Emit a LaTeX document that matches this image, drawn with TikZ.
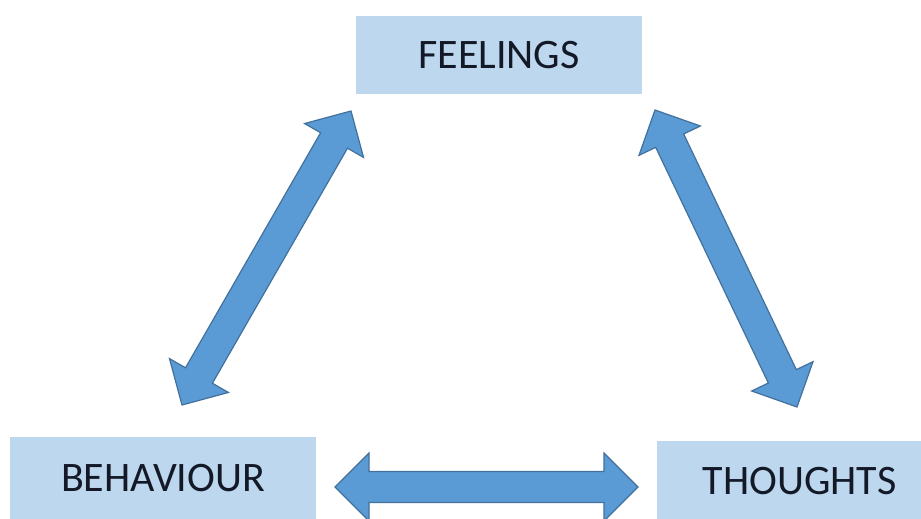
\documentclass[tikz,border=0pt]{standalone}
\usepackage{fontspec}
\setmainfont{Carlito}
\usetikzlibrary{calc}
\definecolor{boxfill}{HTML}{BDD7EE}
\definecolor{arrfill}{HTML}{5B9BD5}
\definecolor{arrline}{HTML}{41719C}
\definecolor{txt}{HTML}{141928}
\newcommand\blockarrow[2]{%
  \coordinate (ba-p) at ($(#1)!34pt!(#2)$);
  \coordinate (ba-q) at ($(#2)!34pt!(#1)$);
  \draw[barrow] (#1) -- ($(ba-p)!34pt!90:(#2)$) -- ($(ba-p)!15.5pt!90:(#2)$)
    -- ($(ba-q)!15.5pt!-90:(#1)$) -- ($(ba-q)!34pt!-90:(#1)$) -- (#2)
    -- ($(ba-q)!34pt!90:(#1)$) -- ($(ba-q)!15.5pt!90:(#1)$)
    -- ($(ba-p)!15.5pt!-90:(#2)$) -- ($(ba-p)!34pt!-90:(#2)$) -- cycle;}
\begin{document}
\begin{tikzpicture}[x=1pt,y=-1pt,
  box/.style={rectangle, fill=boxfill, draw=none, inner sep=0pt,
    text=txt, font=\fontsize{42}{48}\selectfont, text height=27pt, text depth=0pt},
  barrow/.style={fill=arrfill, draw=arrline, line width=1.2pt, line join=miter}]
\useasboundingbox (0,0) rectangle (921,519);
\clip (0,0) rectangle (921,519);
\fill[white] (0,0) rectangle (921,519);
\node[box, minimum width=286pt, minimum height=77pt] (feel) at (499,55) {FEELINGS};
\node[box, minimum width=306pt, minimum height=82pt] (beh) at (163,478) {BEHAVIOUR};
\node[box, minimum width=285pt, minimum height=79pt] (tho) at (799.5,480.5) {THOUGHTS};
\coordinate (c-bf) at (182,405);
\coordinate (c-fb) at (351,111);
\coordinate (c-ft) at (655,110);
\coordinate (c-tf) at (797,407);
\coordinate (c-bt) at (335,487);
\coordinate (c-tb) at (638,487);
\blockarrow{c-bf}{c-fb}
\blockarrow{c-ft}{c-tf}
\blockarrow{c-bt}{c-tb}
\end{tikzpicture}
\end{document}
